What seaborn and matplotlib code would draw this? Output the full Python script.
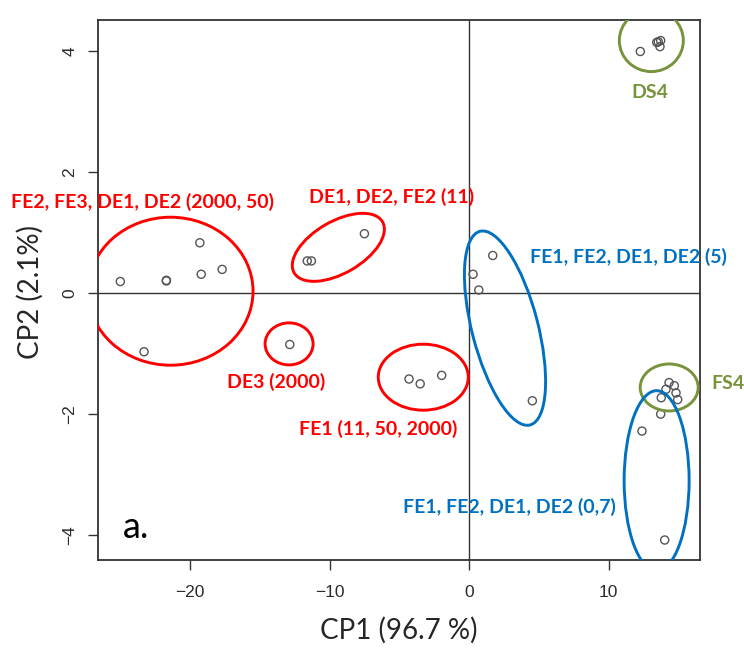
import matplotlib
matplotlib.use("Agg")
import matplotlib.pyplot as plt
from matplotlib.patches import Ellipse
from matplotlib.transforms import ScaledTranslation
import seaborn as sns

sns.set_theme(style="ticks")
plt.rcParams["font.family"] = ["Lato", "DejaVu Sans"]

# PCA scores
cp1 = [-25.0, -21.7, -21.7, -19.3, -19.2, -17.7, -23.3,
       -11.6, -11.3, -7.5, -12.85, -4.3, -3.5, -1.96,
       1.7, 0.29, 0.70, 4.54,
       12.28, 13.57, 13.74, 13.69, 13.46,
       14.34, 14.72, 14.12, 14.84, 14.96, 13.78, 13.74, 12.40, 14.03]
cp2 = [0.19, 0.20, 0.21, 0.83, 0.31, 0.39, -0.97,
       0.53, 0.53, 0.98, -0.85, -1.42, -1.50, -1.36,
       0.62, 0.31, 0.05, -1.78,
       3.99, 4.15, 4.17, 4.07, 4.14,
       -1.48, -1.53, -1.59, -1.65, -1.76, -1.73, -2.00, -2.28, -4.08]

RED, BLUE, GREEN = "#FF0000", "#0070C0", "#77933C"

# group ellipses: centre (data), width/height (pixels), angle, colour
group_cx = [-21.4, -9.37, -12.9, -3.28, 2.58, 13.07, 14.35, 13.45]
group_cy = [0.03, 0.755, -0.84, -1.39, -0.58, 4.17, -1.56, -3.10]
group_w = [165, 102, 48, 90, 200, 64, 58, 65]
group_h = [148, 52, 42, 66, 66, 62, 47, 180]
group_ang = [0, 30, 0, 0, 104.5, 0, 0, 0]
group_col = [RED, RED, RED, RED, BLUE, GREEN, GREEN, BLUE]

# group labels
lab_text = ["FE2, FE3, DE1, DE2 (2000, 50)", "DE1, DE2, FE2 (11)", "DE3 (2000)",
            "FE1 (11, 50, 2000)", "FE1, FE2, DE1, DE2 (5)",
            "FE1, FE2, DE1, DE2 (0,7)", "DS4", "FS4"]
lab_x = [-23.4, -5.56, -13.84, -6.49, 11.4, 2.87, 12.97, 18.57]
lab_y = [1.51, 1.59, -1.47, -2.25, 0.60, -3.53, 3.31, -1.49]
lab_col = [RED, RED, RED, RED, BLUE, BLUE, GREEN, GREEN]

fig = plt.figure(figsize=(7.44, 6.5), dpi=100)
ax = fig.add_axes([98 / 744, 90 / 650, 602 / 744, 540 / 650])

ax.axhline(0, color="#333333", lw=1, zorder=1)
ax.axvline(0, color="#333333", lw=1, zorder=1)

sns.scatterplot(x=cp1, y=cp2, ax=ax, s=34, marker="o", facecolors="none",
                edgecolor="#555555", linewidth=1, zorder=3)

for cx, cy, w, h, a, c in zip(group_cx, group_cy, group_w, group_h, group_ang, group_col):
    tr = fig.dpi_scale_trans + ScaledTranslation(cx, cy, ax.transData)
    ax.add_patch(Ellipse((0, 0), w / 100, h / 100, angle=a, transform=tr,
                         fill=False, edgecolor=c, lw=2.1, zorder=4))

for t, x, y, c in zip(lab_text, lab_x, lab_y, lab_col):
    ax.text(x, y, t, color=c, fontsize=14, fontweight="bold",
            ha="center", va="center", clip_on=False, zorder=5)

ax.text(-23.9, -3.87, "a.", fontsize=26, color="black", ha="center", va="center")

ax.set_xlim(-26.6, 16.56)
ax.set_ylim(-4.41, 4.51)
ax.set_xticks([-20, -10, 0, 10])
ax.set_yticks([-4, -2, 0, 2, 4])
ax.tick_params(axis="both", length=7, width=1, color="#333333",
               labelsize=12.5, labelcolor="#2b2b2b", pad=8)
ax.tick_params(axis="x", pad=11)
for lbl in ax.get_xticklabels() + ax.get_yticklabels():
    lbl.set_fontfamily(["Liberation Sans Narrow", "Liberation Sans"])
for lbl in ax.get_yticklabels():
    lbl.set_rotation(90)
    lbl.set_va("center")

for sp in ax.spines.values():
    sp.set_color("#333333")
    sp.set_linewidth(1.3)

ax.set_xlabel("CP1 (96.7 %)", fontsize=20, va="center")
ax.xaxis.set_label_coords(0.5, -0.13)
ax.set_ylabel("CP2 (2.1%)", fontsize=20, va="center")
ax.yaxis.set_label_coords(-0.113, 0.496)

fig.savefig("out.png", dpi=100)
